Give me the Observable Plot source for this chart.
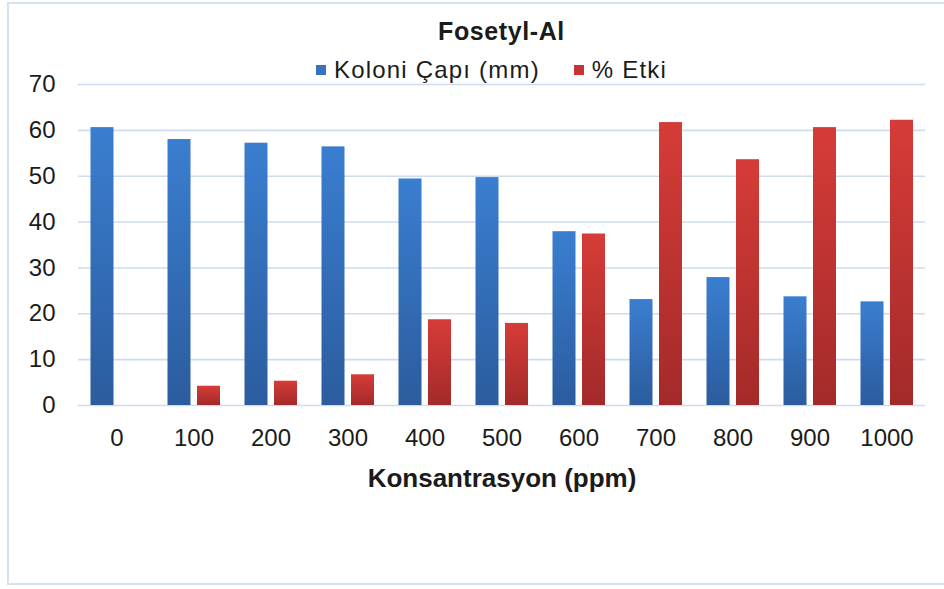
<!DOCTYPE html>
<html>
<head>
<meta charset="utf-8">
<script src="https://cdn.jsdelivr.net/npm/d3@7"></script>
<script src="https://cdn.jsdelivr.net/npm/@observablehq/plot@0.6"></script>
<style>
  body { margin: 0; background: #fff; font-family: "Liberation Sans", Arial, sans-serif; }
  #wrap { position: relative; width: 944px; height: 589px; overflow: hidden; background: #fff; }
  #border { position: absolute; left: 7px; top: 2px; width: 980px; height: 583px; border: 2px solid #d5e2f1; box-sizing: border-box; }
  #title { position: absolute; top: 17px; left: 78px; width: 847px; text-align: center; font-weight: bold; font-size: 25px; line-height: 28px; color: #1b1b1b; letter-spacing: 0.6px; }
  #legend { position: absolute; top: 56px; left: 68px; width: 847px; display: flex; justify-content: center; align-items: center; font-size: 24px; line-height: 28px; color: #1b1b1b; letter-spacing: 1.2px; }
  .item { display: flex; align-items: center; margin: 0 17px; }
  .sw { width: 10px; height: 10px; margin-right: 8px; }
  #chart { position: absolute; top: 60px; left: 0; }
</style>
</head>
<body>
<div id="wrap">
  <div id="border"></div>
  <div id="title"></div>
  <div id="legend"></div>
  <div id="chart"></div>
</div>
<script>
const chartTitle = "Fosetyl-Al";
const xTitle = "Konsantrasyon (ppm)";
const seriesNames = ["Koloni Çapı (mm)", "% Etki"];
const seriesColors = ["#3572c0", "#c73532"];
const concentrations = ["0", "100", "200", "300", "400", "500", "600", "700", "800", "900", "1000"];
const koloniCapi = [60.6, 58.0, 57.2, 56.4, 49.4, 49.7, 37.9, 23.1, 27.9, 23.7, 22.6];
const etki = [0, 4.2, 5.3, 6.7, 18.7, 17.9, 37.4, 61.7, 53.6, 60.6, 62.2];
const yTicks = [0, 10, 20, 30, 40, 50, 60, 70];

document.getElementById("title").textContent = chartTitle;
const legend = document.getElementById("legend");
seriesNames.forEach((name, i) => {
  const item = document.createElement("div");
  item.className = "item";
  const sw = document.createElement("span");
  sw.className = "sw";
  sw.style.background = seriesColors[i];
  const label = document.createElement("span");
  label.textContent = name;
  item.appendChild(sw);
  item.appendChild(label);
  legend.appendChild(item);
});

const rows = concentrations.map((c, i) => ({c, k: koloniCapi[i], e: etki[i]}));

function gradientDefs() {
  const defs = d3.create("svg:defs");
  const make = (id, top, bottom) => {
    const g = defs.append("linearGradient").attr("id", id)
      .attr("x1", 0).attr("y1", 0).attr("x2", 0).attr("y2", 1);
    g.append("stop").attr("offset", "0%").attr("stop-color", top);
    g.append("stop").attr("offset", "100%").attr("stop-color", bottom);
  };
  make("gBlue", "#3a7ed0", "#2b5c9e");
  make("gRed", "#d63c37", "#a32a2a");
  return defs.node();
}

const chart = Plot.plot({
  width: 944,
  height: 440,
  marginTop: 24,
  marginBottom: 95,
  marginLeft: 78,
  marginRight: 19,
  style: {fontFamily: "'Liberation Sans', Arial, sans-serif", fontSize: "24px", color: "#1b1b1b", background: "transparent"},
  x: {domain: concentrations, padding: 0, tickSize: 0, tickPadding: 23, label: null},
  y: {domain: [0, 70], ticks: yTicks, tickSize: 0, tickPadding: 23, label: null},
  marks: [
    gradientDefs,
    Plot.ruleY(yTicks, {stroke: "#cfdcee", strokeWidth: 1.6}),
    Plot.barY(rows, {x: "c", y: "k", fill: "url(#gBlue)", insetLeft: 12.5, insetRight: 41.5}),
    Plot.barY(rows, {x: "c", y: "e", fill: "url(#gRed)", insetLeft: 42, insetRight: 12}),
    Plot.text([xTitle], {frameAnchor: "bottom", lineAnchor: "middle", dy: 73, fontWeight: "bold", fontSize: 26, fill: "#1b1b1b"})
  ]
});
document.getElementById("chart").appendChild(chart);
</script>
</body>
</html>
